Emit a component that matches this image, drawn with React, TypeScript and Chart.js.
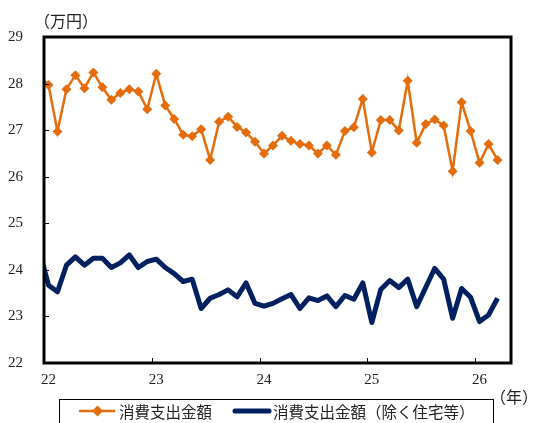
import React, { useEffect, useRef } from "react";
import { Chart, registerables } from "chart.js";

Chart.register(...registerables);

// Monthly categories: Dec 2021 (clipped at left edge) through Mar 2026
const months: string[] = [
  "2021-12",
  "2022-01","2022-02","2022-03","2022-04","2022-05","2022-06","2022-07","2022-08","2022-09","2022-10","2022-11","2022-12",
  "2023-01","2023-02","2023-03","2023-04","2023-05","2023-06","2023-07","2023-08","2023-09","2023-10","2023-11","2023-12",
  "2024-01","2024-02","2024-03","2024-04","2024-05","2024-06","2024-07","2024-08","2024-09","2024-10","2024-11","2024-12",
  "2025-01","2025-02","2025-03","2025-04","2025-05","2025-06","2025-07","2025-08","2025-09","2025-10","2025-11","2025-12",
  "2026-01","2026-02","2026-03",
];

// 消費支出金額 (万円)
const totalSpending: number[] = [
  28.15,
  27.97, 26.97, 27.88, 28.18, 27.90, 28.24, 27.92, 27.65, 27.80, 27.88, 27.83, 27.45,
  28.21, 27.53, 27.24, 26.90, 26.87, 27.02, 26.36, 27.18, 27.29, 27.07, 26.95, 26.75,
  26.50, 26.67, 26.88, 26.77, 26.70, 26.67, 26.50, 26.67, 26.47, 26.98, 27.06, 27.67,
  26.52, 27.22, 27.22, 26.99, 28.06, 26.73, 27.13, 27.23, 27.10, 26.12, 27.60, 26.98,
  26.30, 26.70, 26.36,
];

// 消費支出金額（除く住宅等） (万円)
const spendingExHousing: number[] = [
  24.40,
  23.67, 23.53, 24.10, 24.28, 24.10, 24.25, 24.25, 24.05, 24.15, 24.32, 24.05, 24.18,
  24.23, 24.05, 23.92, 23.75, 23.80, 23.17, 23.39, 23.47, 23.57, 23.42, 23.72, 23.28,
  23.22, 23.28, 23.38, 23.47, 23.17, 23.40, 23.34, 23.44, 23.21, 23.45, 23.37, 23.72,
  22.87, 23.58, 23.77, 23.62, 23.80, 23.21, 23.62, 24.03, 23.80, 22.96, 23.60, 23.41,
  22.89, 23.03, 23.39,
];

const yearLabels: string[] = ["22", "23", "24", "25", "26"];
const seriesNames: string[] = ["消費支出金額", "消費支出金額（除く住宅等）"];
const yTicks: number[] = [22, 23, 24, 25, 26, 27, 28, 29];

const ORANGE = "#E46C0A";
const NAVY = "#002060";
const SERIF = "'Liberation Serif', 'DejaVu Serif', serif";
const CJK = "'Noto Sans CJK JP', 'Liberation Serif', sans-serif";

function diamond(ctx: CanvasRenderingContext2D, x: number, y: number, r: number) {
  ctx.beginPath();
  ctx.moveTo(x, y - r);
  ctx.lineTo(x + r, y);
  ctx.lineTo(x, y + r);
  ctx.lineTo(x - r, y);
  ctx.closePath();
  ctx.fill();
}

const framePlugin = {
  id: "frameAndLegend",
  afterDraw(chart: any) {
    const { ctx, chartArea } = chart;
    const xs = chart.scales.x;
    const ys = chart.scales.y;
    ctx.save();
    // inside tick marks
    ctx.strokeStyle = "#000";
    ctx.lineWidth = 1;
    yTicks.forEach((v) => {
      const py = Math.round(ys.getPixelForValue(v)) + 0.5;
      ctx.beginPath();
      ctx.moveTo(chartArea.left, py);
      ctx.lineTo(chartArea.left + 5, py);
      ctx.stroke();
    });
    yearLabels.forEach((_, i) => {
      if (i === 0) return;
      const px = Math.round(xs.getPixelForValue(i * 12 - 0.5)) + 0.5;
      ctx.beginPath();
      ctx.moveTo(px, chartArea.bottom);
      ctx.lineTo(px, chartArea.bottom - 5);
      ctx.stroke();
    });
    // frame
    ctx.lineWidth = 3;
    ctx.strokeStyle = "#000";
    ctx.strokeRect(chartArea.left, chartArea.top, chartArea.right - chartArea.left, chartArea.bottom - chartArea.top);

    // unit labels
    ctx.fillStyle = "#222";
    ctx.font = `16px ${CJK}`;
    ctx.textBaseline = "middle";
    ctx.textAlign = "left";
    ctx.fillText("（万円）", 34, 21);
    ctx.fillText("（年）", 490, 397);

    // legend box
    ctx.lineWidth = 1;
    ctx.strokeStyle = "#000";
    ctx.strokeRect(59.5, 399.5, 434, 40);
    const ly = 411;
    ctx.strokeStyle = ORANGE;
    ctx.lineWidth = 2.5;
    ctx.beginPath();
    ctx.moveTo(79, ly);
    ctx.lineTo(115, ly);
    ctx.stroke();
    ctx.fillStyle = ORANGE;
    diamond(ctx, 97.5, ly, 5.5);
    ctx.strokeStyle = NAVY;
    ctx.lineWidth = 5;
    ctx.lineCap = "round";
    ctx.beginPath();
    ctx.moveTo(235, ly);
    ctx.lineTo(269, ly);
    ctx.stroke();
    ctx.fillStyle = "#222";
    ctx.font = `15.5px ${CJK}`;
    ctx.textBaseline = "middle";
    ctx.fillText(seriesNames[0], 119, ly + 1);
    ctx.fillText(seriesNames[1], 273, ly + 1);
    ctx.restore();
  },
};

export default function App() {
  const canvasRef = useRef<HTMLCanvasElement>(null);

  useEffect(() => {
    if (!canvasRef.current) return;
    const toPoints = (arr: number[]) => arr.map((v, i) => ({ x: i - 1, y: v }));
    const chart = new Chart(canvasRef.current, {
      type: "line",
      data: {
        datasets: [
          {
            label: seriesNames[1],
            data: toPoints(spendingExHousing),
            borderColor: NAVY,
            backgroundColor: NAVY,
            borderWidth: 5,
            pointRadius: 0,
            tension: 0,
            clip: 0,
            borderJoinStyle: "round",
            order: 2,
          },
          {
            label: seriesNames[0],
            data: toPoints(totalSpending),
            borderColor: ORANGE,
            backgroundColor: ORANGE,
            borderWidth: 2.5,
            pointStyle: "rectRot",
            pointRadius: (c: any) => (c.dataIndex === 0 ? 0 : 5),
            pointBorderWidth: 0,
            pointBackgroundColor: ORANGE,
            tension: 0,
            clip: 0,
            order: 1,
          },
        ] as any,
      },
      options: {
        animation: false,
        responsive: false,
        maintainAspectRatio: false,
        layout: { padding: { top: 37, left: 0, right: 28, bottom: 30 } },
        plugins: { legend: { display: false }, tooltip: { enabled: false } },
        scales: {
          x: {
            type: "linear",
            min: -0.5,
            max: 51.5,
            afterBuildTicks: (scale: any) => {
              scale.ticks = yearLabels.map((_, i) => ({ value: i * 12 }));
            },
            afterFit: (scale: any) => {
              scale.height = 30;
            },
            ticks: {
              autoSkip: false,
              maxRotation: 0,
              padding: 8,
              color: "#222",
              font: { family: SERIF, size: 15 },
              callback: (v: any) => yearLabels[Math.round(Number(v) / 12)] ?? "",
            },
            grid: { display: false, drawTicks: false },
            border: { display: false },
          },
          y: {
            min: 22,
            max: 29,
            afterBuildTicks: (scale: any) => {
              scale.ticks = yTicks.map((v) => ({ value: v }));
            },
            afterFit: (scale: any) => {
              scale.width = 44;
            },
            ticks: {
              padding: 21,
              color: "#222",
              font: { family: SERIF, size: 15 },
            },
            grid: { display: false, drawTicks: false },
            border: { display: false },
          },
        },
      } as any,
      plugins: [framePlugin],
    });
    return () => chart.destroy();
  }, []);

  return (
    <div style={{ position: "fixed", left: 0, top: 0, width: 539, height: 423, background: "#fff" }}>
      <canvas ref={canvasRef} width={539} height={423} style={{ width: 539, height: 423, display: "block" }} />
    </div>
  );
}
